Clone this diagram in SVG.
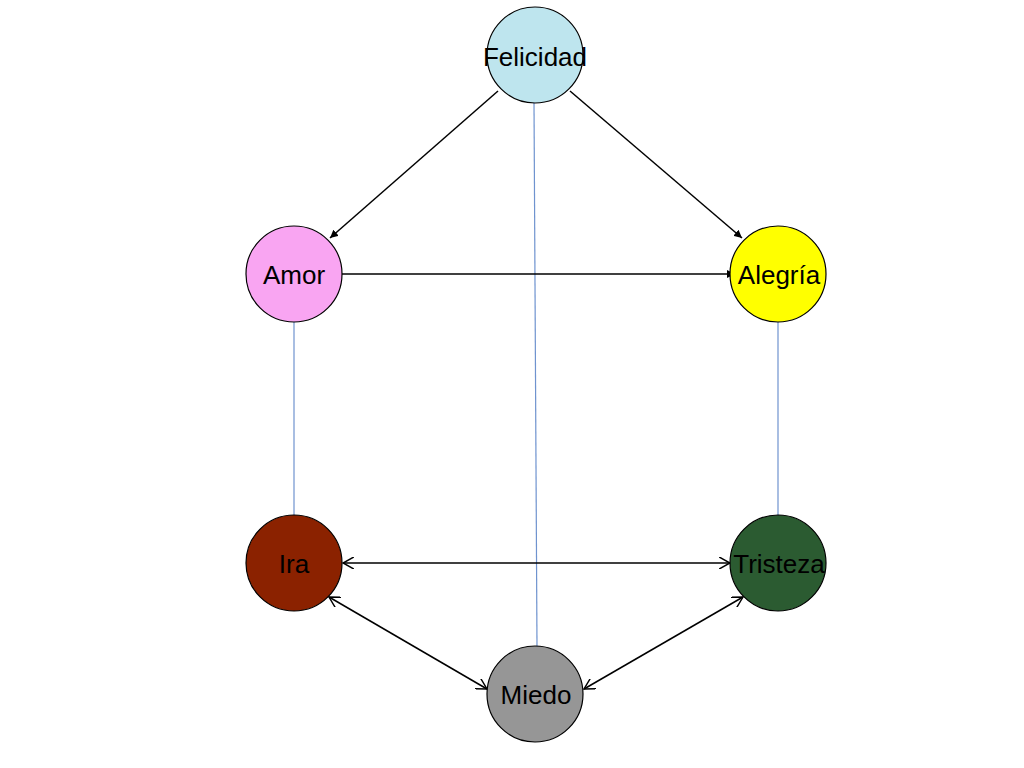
<svg xmlns="http://www.w3.org/2000/svg" width="1024" height="768" viewBox="0 0 1024 768">
<style>
.node{stroke:#000;stroke-width:1.2}
.lbl{font-family:"Liberation Sans",Arial,sans-serif;font-size:26px;text-anchor:middle;fill:#000}
.arr{stroke:#000;stroke-width:1.5;fill:none}
.blue{stroke:#6f93cf;stroke-width:1.2;fill:none}
</style>
<defs>
<marker id="fill" viewBox="0 0 10 10" refX="10" refY="5" markerWidth="8" markerHeight="8" markerUnits="userSpaceOnUse" orient="auto">
<path d="M0,0 L10,5 L0,10 Z" fill="#000"/>
</marker>
<marker id="open" viewBox="0 0 10 10" refX="9" refY="5" markerWidth="12" markerHeight="12" markerUnits="userSpaceOnUse" orient="auto-start-reverse">
<path d="M0,0 L9,5 L0,10" fill="none" stroke="#000" stroke-width="1.2"/>
</marker>
</defs>
<rect width="1024" height="768" fill="#fff"/>
<g id="connectors">
<line class="blue" x1="534" y1="103" x2="537" y2="646"/>
<line class="blue" x1="294" y1="322" x2="294" y2="515"/>
<line class="blue" x1="778" y1="322" x2="778" y2="515"/>
<line class="arr" x1="498" y1="91" x2="330" y2="238" marker-end="url(#fill)"/>
<line class="arr" x1="570" y1="91" x2="742" y2="238" marker-end="url(#fill)"/>
<line class="arr" x1="342" y1="274" x2="735" y2="274" marker-end="url(#fill)"/>
<line class="arr" x1="343" y1="563" x2="730" y2="563" marker-start="url(#open)" marker-end="url(#open)"/>
<line class="arr" x1="329" y1="597" x2="487" y2="689" marker-start="url(#open)" marker-end="url(#open)"/>
<line class="arr" x1="743" y1="597" x2="584" y2="689" marker-start="url(#open)" marker-end="url(#open)"/>
</g>
<g id="felicidad"><circle class="node" cx="535" cy="55" r="48" fill="#bee5ee"/><text class="lbl" x="535" y="66">Felicidad</text></g>
<g id="amor"><circle class="node" cx="294" cy="274" r="48" fill="#f9a5f2"/><text class="lbl" x="294" y="284">Amor</text></g>
<g id="alegria"><circle class="node" cx="778" cy="274" r="48" fill="#ffff00"/><text class="lbl" x="779" y="284">Alegría</text></g>
<g id="ira"><circle class="node" cx="294" cy="563" r="48" fill="#8b2200"/><text class="lbl" x="294" y="573">Ira</text></g>
<g id="tristeza"><circle class="node" cx="778" cy="563" r="48" fill="#2b5b31"/><text class="lbl" x="779" y="573">Tristeza</text></g>
<g id="miedo"><circle class="node" cx="535" cy="694" r="48" fill="#969696"/><text class="lbl" x="536" y="704">Miedo</text></g>
</svg>
